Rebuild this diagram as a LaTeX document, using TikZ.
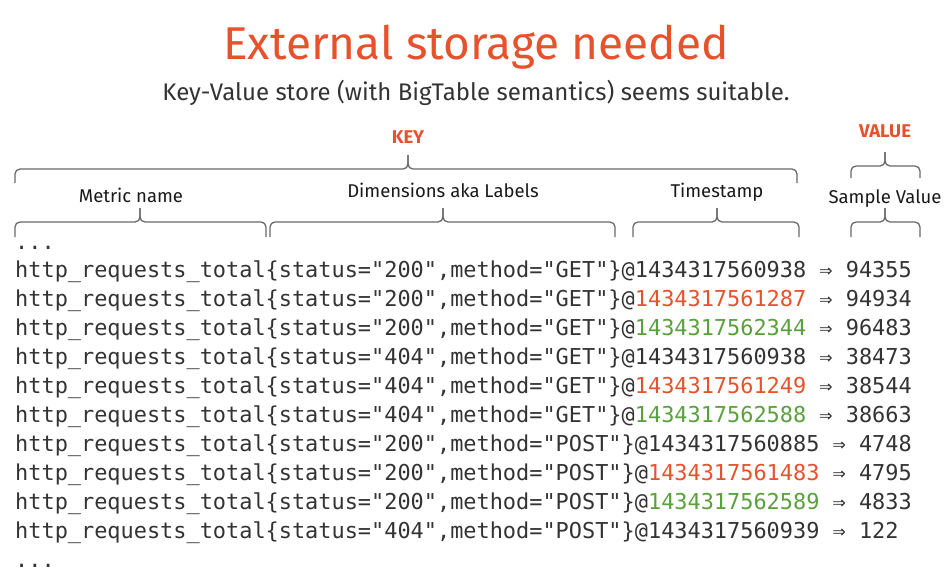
\documentclass[tikz,border=0pt]{standalone}
\usepackage{fontspec}
\setmainfont{Fira Sans}
\setmonofont{DejaVu Sans Mono}
\usetikzlibrary{positioning}
\definecolor{promorange}{RGB}{230,82,44}
\definecolor{promgreen}{RGB}{90,160,60}
\definecolor{textgray}{RGB}{51,51,51}
\definecolor{bracegray}{RGB}{105,105,105}

\begin{document}
\begin{tikzpicture}[x=1pt, y=-1pt,
  title/.style={text=promorange, font=\fontsize{46}{52}\selectfont, anchor=base, inner sep=0pt},
  subtitle/.style={text=textgray, font=\fontsize{24}{29}\selectfont, anchor=base, inner sep=0pt},
  part/.style={text=black!90, font=\fontsize{18.5}{22}\selectfont, anchor=base, inner sep=0pt},
  group/.style={text=promorange, font=\bfseries\fontsize{18.5}{22}\selectfont, anchor=base, inner sep=0pt},
  code/.style={text=textgray, font=\ttfamily\fontsize{21.9}{26}\selectfont, anchor=base west, inner sep=0pt},
  curly/.style={draw=bracegray, line width=1.3pt, rounded corners=5pt}]
  \useasboundingbox (0,0) rectangle (951,581);

  % brace: left, right, tip x, foot y, middle y, tip y
  \def\curlybrace#1#2#3#4#5#6{
    \draw[curly] (#1,#4) |- (#3,#5) -- (#3,#6);
    \draw[curly] (#2,#4) |- (#3,#5) -- (#3,#6);
  }

  % headings
  \node[title] (head) at (476,59) {External storage needed};
  \node[subtitle] (subhead) at (476,100) {Key-Value store (with BigTable semantics) seems suitable.};

  % key / value groups
  \node[group] (key) at (408,143) {KEY};
  \node[group] (value) at (885,137) {VALUE};
  \curlybrace{15}{797}{408}{183}{169}{155}
  \curlybrace{851}{920}{885}{178}{166}{152}

  % parts of a sample
  \node[part] (metric) at (131,202) {Metric name};
  \node[part] (labels) at (443,197) {Dimensions aka Labels};
  \node[part] (stamp) at (717,197) {Timestamp};
  \node[part] (sample) at (885,203) {Sample Value};
  \curlybrace{15}{266}{140}{237}{222}{208}
  \curlybrace{270}{615}{443}{237}{222}{208}
  \curlybrace{633}{799}{717}{237}{222}{208}
  \curlybrace{851}{920}{885}{237}{222}{208}

  % samples
  \node[code] (dotsTop) at (15,249) {...};
  \foreach \st/\me/\ts/\tc/\val [count=\i] in {
      200/GET/1434317560938/textgray/94355,
      200/GET/1434317561287/promorange/94934,
      200/GET/1434317562344/promgreen/96483,
      404/GET/1434317560938/textgray/38473,
      404/GET/1434317561249/promorange/38544,
      404/GET/1434317562588/promgreen/38663,
      200/POST/1434317560885/textgray/4748,
      200/POST/1434317561483/promorange/4795,
      200/POST/1434317562589/promgreen/4833,
      404/POST/1434317560939/textgray/122} {
    \node[code] (row\i) at (15,{249+28.9*\i})
      {http\_requests\_total\{status="\st",method="\me"\}@\textcolor{\tc}{\ts} ⇒ \val};
  }
  \node[code] (dotsEnd) at (15,567) {...};
\end{tikzpicture}
\end{document}
